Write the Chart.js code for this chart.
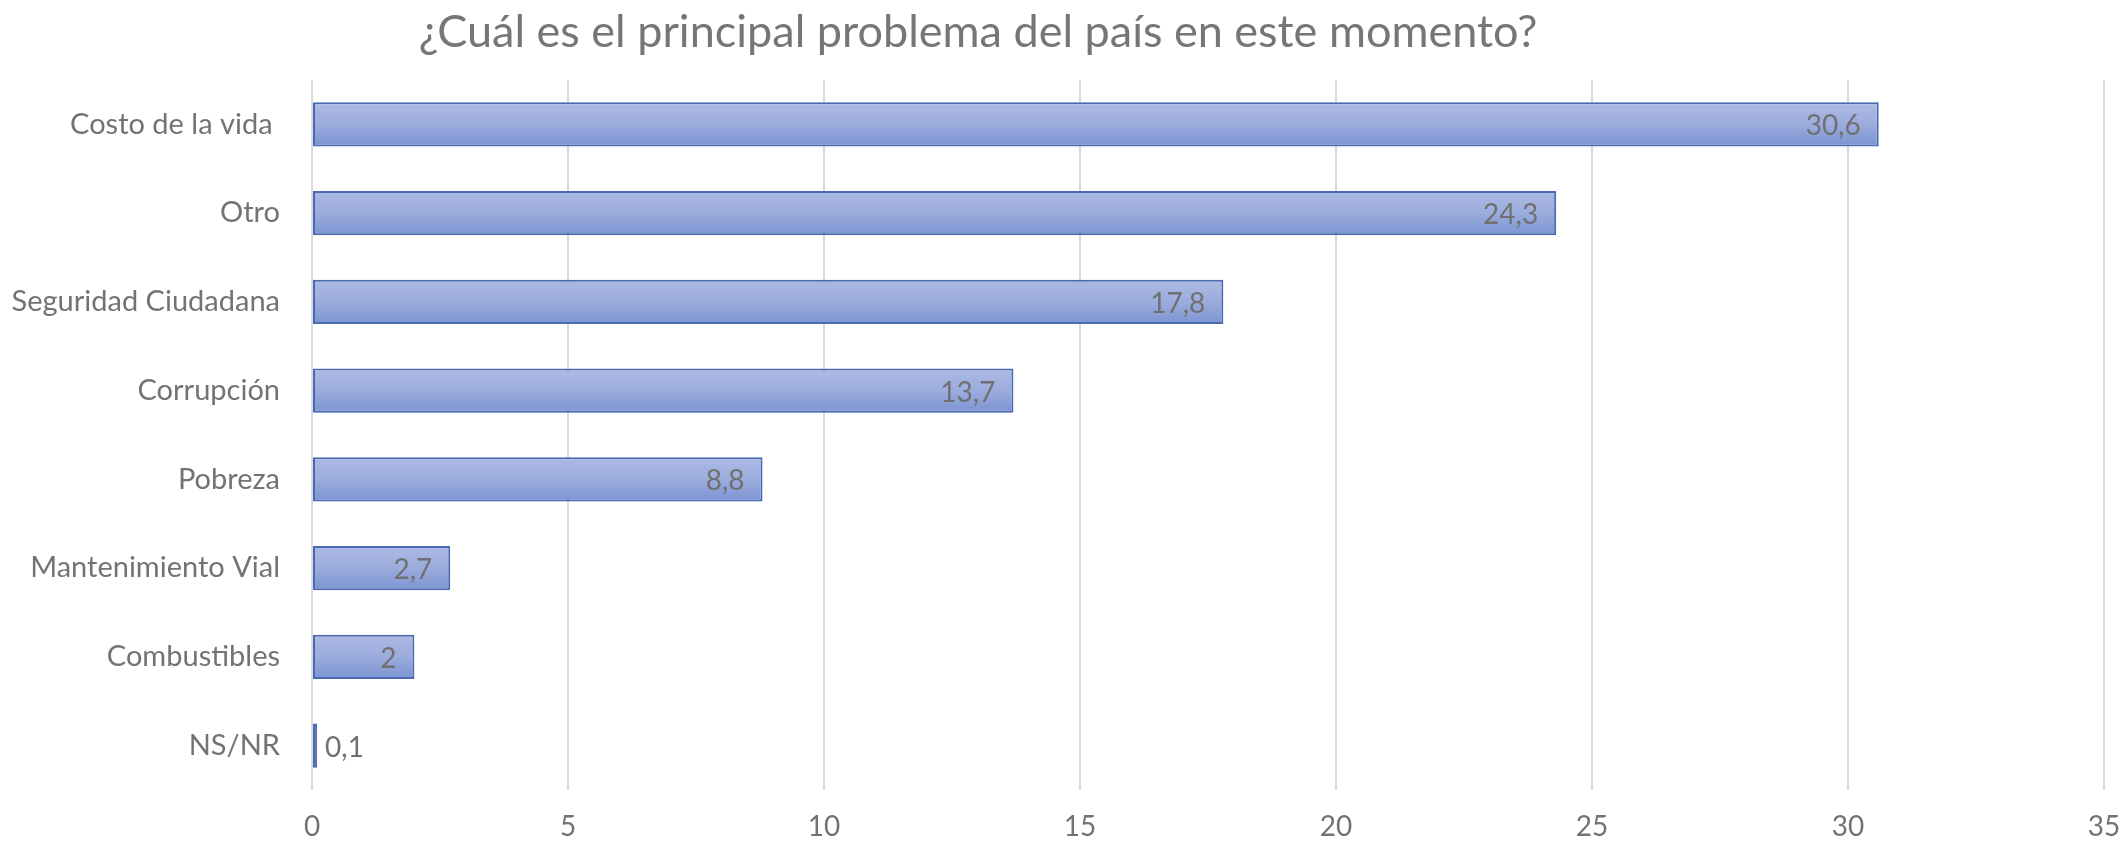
<!DOCTYPE html>
<html>
<head>
<meta charset="utf-8">
<script src="https://cdn.jsdelivr.net/npm/chart.js@4/dist/chart.umd.min.js"></script>
<style>
  html, body { margin: 0; padding: 0; background: #ffffff; }
  #wrap { width: 2126px; height: 841px; }
</style>
</head>
<body>
<div id="wrap"><canvas id="c" width="2126" height="841"></canvas></div>
<script>
const chartTitle = '¿Cuál es el principal problema del país en este momento?';
const categories = ['Costo de la vida ', 'Otro', 'Seguridad Ciudadana', 'Corrupción', 'Pobreza', 'Mantenimiento Vial', 'Combustibles', 'NS/NR'];
const values = [30.6, 24.3, 17.8, 13.7, 8.8, 2.7, 2, 0.1];
const xMin = 0;
const xMax = 35;
const xStep = 5;

const FONT = 'Lato, "Open Sans", sans-serif';
const TEXT = '#737373';

function fmt(v) { return String(v).replace('.', ','); }

const titlePlugin = {
  id: 'customTitle',
  afterDraw(chart) {
    const ctx = chart.ctx;
    ctx.save();
    ctx.font = '45px ' + FONT;
    ctx.fillStyle = '#767676';
    ctx.textAlign = 'center';
    ctx.textBaseline = 'alphabetic';
    ctx.fillText(chartTitle, 978, 47);
    ctx.restore();
  }
};

const labelPlugin = {
  id: 'valueLabels',
  afterDatasetsDraw(chart) {
    const ctx = chart.ctx;
    const meta = chart.getDatasetMeta(0);
    ctx.save();
    ctx.font = '28px ' + FONT;
    ctx.fillStyle = '#707070';
    ctx.textBaseline = 'middle';
    meta.data.forEach((bar, i) => {
      const txt = fmt(values[i]);
      const w = ctx.measureText(txt).width;
      const left = chart.scales.x.getPixelForValue(0);
      if (bar.x - left > w + 30) {
        ctx.textAlign = 'right';
        ctx.fillText(txt, bar.x - 18, bar.y + 2);
      } else {
        ctx.textAlign = 'left';
        ctx.fillText(txt, bar.x + 8, bar.y + 2);
      }
    });
    ctx.restore();
  }
};

function barGradient(context) {
  const chart = context.chart;
  const yScale = chart.scales.y;
  if (!yScale || !chart.chartArea || context.dataIndex === undefined) return '#94a7dc';
  const cy = yScale.getPixelForValue(context.dataIndex);
  if (!isFinite(cy)) return '#94a7dc';
  const half = 22;
  const g = chart.ctx.createLinearGradient(0, cy - half, 0, cy + half);
  g.addColorStop(0, '#acbae4');
  g.addColorStop(0.5, '#9bacdd');
  g.addColorStop(1, '#7c94d3');
  return g;
}

new Chart(document.getElementById('c'), {
  type: 'bar',
  data: {
    labels: categories,
    datasets: [{
      data: values,
      backgroundColor: barGradient,
      borderColor: '#4a69b2',
      borderWidth: 2,
      borderSkipped: false,
      barPercentage: 0.5,
      categoryPercentage: 1.0
    }]
  },
  options: {
    indexAxis: 'y',
    responsive: false,
    animation: false,
    devicePixelRatio: 1,
    layout: { padding: { left: 0, right: 22, top: 80, bottom: 0 } },
    plugins: {
      legend: { display: false },
      title: { display: false },
      tooltip: { enabled: false }
    },
    scales: {
      x: {
        min: xMin,
        max: xMax,
        ticks: {
          stepSize: xStep,
          color: TEXT,
          font: { family: FONT, size: 28 },
          padding: 20
        },
        grid: { color: '#d9d9d9', lineWidth: 2, drawTicks: false },
        border: { display: false },
        afterFit(scale) { scale.height = 51; scale.paddingRight = 0; scale.paddingLeft = 0; }
      },
      y: {
        ticks: {
          color: TEXT,
          font: { family: FONT, size: 29 },
          padding: 32
        },
        grid: { display: false, drawTicks: false },
        border: { display: false },
        afterFit(scale) { scale.width = 312; }
      }
    }
  },
  plugins: [titlePlugin, labelPlugin]
});
</script>
</body>
</html>
